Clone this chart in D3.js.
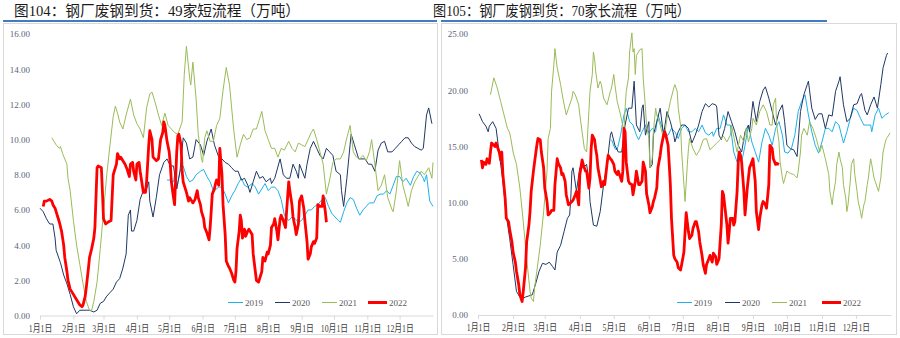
<!DOCTYPE html>
<html>
<head>
<meta charset="utf-8">
<script src="https://cdn.jsdelivr.net/npm/d3@7"></script>
<style>
  body { margin: 0; background: #fff; }
  svg { display: block; }
</style>
</head>
<body>
<svg id="chart" width="900" height="338"></svg>
<script>
// Month starts (day of year) and their labels
const monthDays = [0, 31, 59, 90, 120, 151, 181, 212, 243, 273, 304, 334];
const monthLabels = ["1月1日", "2月1日", "3月1日", "4月1日", "5月1日", "6月1日",
                     "7月1日", "8月1日", "9月1日", "10月1日", "11月1日", "12月1日"];
const yearNames = ["2019", "2020", "2021", "2022"];
const shortTicks = [0, 2, 4, 6, 8, 10, 12, 14, 16];
const longTicks = [0, 5, 10, 15, 20, 25];

// 49 short-process mills: [day of year, arrivals (10k t)]
const short2019 = [[118,7.7],[121,7.7],[124,7.6],[125,8.0],[127,7.2],[130,8.2],[133,8.5],[136,7.9],[139,7.6],[142,7.7],[145,8.0],[149,8.2],[152,8.3],[155,7.9],[158,7.6],[161,7.1],[162,7.1],[166,7.3],[169,7.3],[172,6.9],[175,6.4],[178,6.8],[181,7.1],[184,7.5],[187,7.8],[190,7.4],[193,7.3],[197,7.5],[200,7.3],[203,6.9],[206,7.2],[209,7.5],[212,7.1],[215,7.3],[218,7.3],[221,7.1],[224,6.6],[227,5.7],[231,5.4],[234,5.6],[237,5.5],[240,5.3],[243,5.4],[246,5.7],[249,6.0],[252,6.0],[255,6.2],[258,6.3],[262,6.6],[265,6.7],[268,6.2],[271,5.8],[274,5.6],[277,5.4],[279,5.3],[282,5.9],[285,6.4],[288,6.7],[291,6.6],[294,6.1],[297,5.7],[300,6.0],[303,6.2],[306,6.4],[310,6.4],[313,6.8],[316,6.9],[319,6.9],[322,7.1],[325,6.9],[328,7.4],[331,7.9],[334,7.9],[337,7.6],[340,7.8],[344,7.4],[347,7.9],[350,8.2],[353,8.1],[356,7.8],[357,7.6],[359,8.0],[362,6.5],[365,6.2]];
const short2020 = [[0,6.1],[3,5.9],[6,5.5],[9,5.2],[12,5.2],[14,4.4],[15,3.7],[19,3.0],[22,2.3],[25,1.8],[28,1.2],[31,0.5],[34,0.1],[37,0.3],[40,0.3],[43,0.3],[46,0.3],[50,0.2],[53,0.3],[56,0.7],[59,0.8],[62,1.1],[65,1.3],[68,1.5],[71,1.9],[74,2.1],[77,2.7],[80,3.5],[82,5.7],[84,6.0],[85,4.8],[87,4.8],[90,5.4],[93,6.6],[96,7.1],[99,7.2],[101,7.6],[102,6.5],[105,5.6],[108,6.7],[111,8.0],[115,8.7],[118,8.9],[121,8.5],[124,8.5],[127,7.2],[130,8.2],[133,10.1],[136,9.8],[139,8.9],[142,9.0],[145,10.0],[149,9.7],[152,9.1],[155,9.9],[159,10.6],[162,9.7],[166,9.0],[169,8.9],[172,8.7],[175,8.6],[178,8.4],[181,8.2],[184,8.2],[187,7.7],[190,7.8],[193,7.4],[195,7.0],[198,7.6],[201,8.2],[204,7.8],[207,7.9],[210,7.6],[214,7.8],[215,7.5],[218,7.8],[223,8.9],[226,8.0],[229,7.8],[232,7.8],[235,8.6],[238,8.2],[240,7.8],[241,8.6],[246,7.8],[248,8.6],[251,9.5],[254,9.9],[257,9.5],[260,9.1],[263,8.9],[266,9.5],[269,9.3],[272,9.1],[275,8.2],[279,8.0],[280,7.1],[282,6.2],[285,7.8],[288,9.7],[289,10.3],[292,9.7],[296,8.9],[299,8.9],[302,8.9],[305,8.6],[308,8.6],[311,8.2],[314,9.4],[317,9.8],[320,9.9],[323,9.3],[327,9.3],[330,9.5],[333,9.7],[336,9.9],[339,10.1],[342,10.1],[345,9.8],[348,9.6],[351,9.5],[354,9.4],[356,9.5],[359,11.4],[361,11.8],[364,10.9]];
const short2021 = [[11,10.1],[13,9.9],[15,9.7],[18,9.5],[19,9.6],[21,9.2],[23,8.9],[25,8.6],[26,7.8],[28,7.1],[31,5.4],[34,4.0],[37,2.9],[40,1.8],[43,0.8],[46,0.3],[48,0.3],[50,0.8],[53,1.9],[56,3.8],[59,5.9],[62,8.0],[65,9.7],[68,11.3],[70,11.9],[72,11.5],[74,11.0],[77,10.6],[80,11.4],[84,12.3],[87,11.4],[90,10.9],[93,10.6],[96,10.1],[99,11.8],[102,12.6],[104,12.7],[107,12.1],[110,11.4],[113,10.8],[116,11.5],[119,10.8],[122,10.6],[125,10.4],[128,10.3],[132,11.0],[134,13.7],[136,15.3],[139,13.5],[140,13.1],[142,14.4],[145,12.3],[147,10.3],[150,8.9],[151,8.7],[153,10.1],[155,10.5],[158,9.9],[161,9.9],[164,10.8],[167,11.2],[170,12.8],[173,14.1],[176,13.1],[180,10.5],[183,9.0],[186,9.7],[189,10.3],[192,10.0],[195,10.1],[198,10.6],[201,10.6],[204,11.2],[206,11.6],[209,10.5],[212,10.0],[215,9.5],[218,9.5],[221,9.0],[224,9.5],[227,9.4],[231,9.9],[234,9.5],[237,9.3],[240,9.8],[243,9.7],[246,9.6],[249,10.0],[252,10.4],[254,10.6],[257,10.0],[260,9.3],[263,8.6],[266,6.9],[269,7.7],[272,8.7],[275,8.9],[279,8.9],[282,9.3],[285,10.1],[288,10.8],[291,9.3],[294,9.0],[297,8.9],[300,9.1],[303,8.8],[306,9.3],[308,10.0],[311,8.6],[314,7.1],[317,7.4],[320,8.0],[323,6.7],[327,6.0],[328,5.9],[331,7.1],[334,8.8],[337,7.4],[340,6.7],[342,6.2],[345,7.1],[348,7.6],[351,7.9],[354,8.2],[357,8.0],[361,8.4],[364,7.8],[365,8.7]];
const short2022 = [[3,6.2],[4,6.5],[6,6.5],[9,6.6],[11,6.5],[12,6.3],[14,6.1],[16,5.7],[18,5.3],[20,4.8],[22,4.0],[23,3.3],[25,2.5],[26,2.0],[28,1.5],[31,1.2],[34,0.9],[37,0.6],[39,0.5],[40,0.6],[42,1.1],[43,1.6],[45,2.7],[46,3.3],[48,3.8],[50,4.4],[51,5.0],[53,8.4],[54,8.5],[57,8.4],[58,7.0],[59,5.5],[61,5.2],[63,5.3],[66,5.4],[68,8.0],[71,8.6],[72,9.2],[74,8.9],[75,9.0],[77,8.8],[79,8.6],[81,8.3],[83,7.9],[84,8.6],[86,8.7],[87,8.2],[89,7.7],[90,8.6],[92,8.7],[93,8.2],[94,7.8],[96,7.0],[98,7.0],[99,7.6],[101,9.7],[102,10.5],[104,10.0],[105,9.0],[108,8.8],[110,8.9],[112,10.0],[114,10.4],[115,11.0],[116,10.8],[118,9.9],[120,9.3],[121,8.6],[122,7.6],[124,6.7],[125,6.3],[127,9.3],[128,10.2],[129,10.3],[131,9.7],[132,8.2],[133,7.6],[135,7.2],[136,7.0],[138,6.5],[139,6.7],[141,6.5],[142,6.4],[144,6.6],[146,7.1],[147,6.7],[149,6.3],[150,5.9],[152,5.5],[153,5.0],[155,4.7],[157,4.3],[158,5.0],[159,5.9],[160,6.9],[162,7.2],[163,7.5],[164,7.7],[166,7.4],[167,9.5],[169,8.0],[170,6.3],[172,4.6],[173,3.1],[175,2.8],[176,2.7],[178,2.4],[180,2.0],[181,1.9],[182,2.5],[183,3.8],[185,4.8],[186,5.7],[187,5.4],[188,4.4],[190,4.9],[191,4.5],[193,4.8],[194,4.9],[195,4.8],[197,4.6],[198,3.5],[200,2.5],[201,2.0],[203,1.9],[204,2.1],[206,2.5],[207,3.3],[209,3.1],[211,3.6],[212,3.5],[214,4.0],[215,5.0],[217,5.2],[218,5.5],[220,4.8],[221,4.3],[223,5.5],[224,5.7],[226,5.4],[228,5.0],[229,5.9],[231,7.6],[232,7.1],[234,6.3],[235,5.6],[237,5.0],[238,4.6],[240,5.2],[241,6.5],[243,6.8],[245,6.1],[246,5.4],[248,4.2],[249,3.2],[251,3.5],[252,3.9],[254,4.2],[255,4.1],[257,4.4],[258,6.3],[260,6.2],[262,6.2],[263,6.8],[265,5.9],[266,5.3]];

// 70 long-process mills: [day of year, arrivals (10k t)]
const long2019 = [[118,15.6],[121,14.8],[123,14.7],[126,16.0],[129,17.8],[131,18.4],[134,17.2],[137,16.9],[140,16.0],[142,15.6],[145,16.3],[148,16.9],[151,16.2],[154,16.6],[157,16.3],[159,17.8],[162,16.9],[165,16.0],[168,16.0],[171,16.6],[174,16.3],[177,15.7],[180,16.6],[183,16.9],[186,16.3],[189,16.3],[192,16.6],[195,16.3],[198,16.9],[201,16.2],[204,16.0],[207,16.3],[208,15.9],[211,16.6],[214,16.6],[217,17.8],[220,16.9],[223,16.9],[226,14.5],[229,13.6],[230,14.5],[233,13.6],[236,15.1],[239,16.9],[242,15.4],[245,14.5],[248,13.6],[251,15.4],[254,16.6],[257,16.0],[260,15.1],[263,16.6],[266,17.2],[269,16.0],[271,14.5],[274,14.4],[277,14.8],[280,16.0],[283,18.1],[286,19.0],[289,19.6],[292,17.8],[295,16.3],[298,15.1],[301,14.4],[304,15.4],[307,16.6],[310,16.6],[313,16.3],[316,17.2],[319,16.9],[322,15.7],[323,15.3],[326,16.3],[329,17.5],[332,18.4],[335,18.2],[338,17.5],[341,16.9],[344,16.9],[347,16.9],[348,16.3],[351,17.8],[354,18.4],[357,17.5],[360,17.8],[363,18.0]];
const long2020 = [[1,17.9],[4,17.2],[7,16.8],[9,16.3],[10,16.8],[13,17.2],[16,16.6],[19,14.2],[22,11.9],[25,8.9],[28,6.8],[31,4.5],[34,2.1],[37,1.6],[40,1.5],[42,1.6],[45,1.7],[48,1.8],[51,2.8],[54,3.9],[57,4.6],[60,4.5],[63,4.7],[66,4.3],[68,4.0],[70,5.6],[73,6.2],[76,7.4],[79,8.6],[81,8.9],[82,10.4],[83,12.8],[84,13.1],[87,11.0],[90,13.1],[93,13.1],[96,13.4],[98,11.9],[99,10.1],[102,8.0],[105,7.9],[108,9.2],[111,11.6],[114,13.4],[117,16.0],[118,16.3],[121,15.1],[124,14.5],[127,14.5],[130,16.9],[133,18.4],[136,18.4],[138,20.8],[140,16.9],[143,16.3],[145,18.4],[146,18.7],[148,16.0],[151,17.2],[152,13.1],[154,13.4],[155,16.0],[158,17.2],[161,18.4],[164,16.0],[167,18.1],[170,17.2],[173,16.0],[174,15.4],[177,16.3],[180,16.9],[183,16.9],[186,16.6],[189,15.3],[192,16.0],[195,16.9],[198,18.1],[201,18.8],[204,18.5],[207,18.8],[210,18.7],[211,18.5],[213,16.0],[215,15.6],[218,16.6],[221,18.1],[224,17.2],[227,16.3],[230,15.1],[233,14.5],[236,16.3],[239,16.9],[240,16.3],[243,19.0],[246,17.2],[249,19.0],[252,20.0],[254,20.3],[257,19.3],[260,18.1],[263,16.9],[266,18.1],[269,18.7],[271,17.2],[273,15.1],[276,14.8],[279,14.7],[282,14.1],[285,18.1],[288,19.6],[291,20.5],[292,20.8],[295,18.4],[298,17.4],[301,17.9],[304,17.9],[307,16.6],[310,17.8],[313,17.7],[316,19.9],[319,20.8],[320,21.2],[323,18.7],[326,17.2],[329,17.5],[332,18.7],[335,18.8],[338,19.6],[339,19.7],[342,18.2],[344,17.8],[347,18.7],[350,19.4],[353,18.4],[356,20.5],[358,22.0],[361,23.1],[362,23.3]];
const long2021 = [[11,19.6],[14,21.1],[17,20.2],[20,19.0],[23,17.8],[26,16.6],[28,16.2],[29,15.7],[31,14.5],[34,13.4],[37,11.3],[40,8.3],[43,5.0],[46,2.1],[47,1.5],[49,1.2],[50,2.4],[52,3.9],[55,6.2],[58,9.2],[61,12.8],[62,15.7],[64,16.6],[65,19.9],[67,22.2],[68,23.7],[69,22.8],[70,22.0],[73,20.5],[75,19.3],[78,17.8],[80,18.4],[83,19.3],[84,19.9],[86,19.6],[89,18.7],[90,17.8],[92,16.3],[94,14.8],[96,14.5],[98,18.1],[99,19.9],[101,21.4],[102,23.4],[103,22.8],[104,21.7],[106,20.2],[108,20.8],[109,20.5],[111,19.3],[114,18.7],[117,19.9],[118,20.2],[120,21.4],[121,20.5],[123,19.0],[126,17.8],[129,16.3],[130,18.4],[131,19.9],[133,21.1],[134,23.4],[136,25.1],[137,23.4],[138,23.7],[139,21.4],[140,23.1],[143,23.6],[145,23.7],[146,21.1],[148,18.4],[149,16.9],[151,15.7],[152,13.1],[154,13.9],[155,16.3],[157,18.4],[158,17.8],[161,16.9],[164,15.7],[165,16.0],[167,17.5],[170,19.0],[173,20.2],[174,20.5],[176,19.9],[177,18.4],[179,16.9],[180,14.5],[182,11.6],[183,10.1],[185,13.4],[186,14.8],[187,15.7],[190,14.8],[193,14.2],[196,14.7],[199,15.6],[202,15.7],[205,14.7],[208,15.0],[211,15.3],[214,15.6],[217,15.9],[220,15.4],[223,16.0],[224,16.9],[227,15.4],[229,14.5],[232,16.0],[235,15.4],[237,16.6],[239,15.4],[242,16.6],[243,17.5],[246,16.9],[249,18.1],[252,18.7],[255,18.1],[258,16.9],[260,16.9],[261,18.7],[263,19.3],[264,16.9],[266,15.4],[267,13.6],[269,12.2],[270,11.7],[273,12.8],[276,12.6],[279,12.5],[282,12.2],[283,12.8],[285,14.5],[286,16.0],[288,16.6],[291,16.0],[293,17.2],[296,16.6],[299,15.7],[302,14.5],[304,15.1],[307,13.9],[310,12.5],[311,11.0],[313,9.8],[314,10.7],[316,11.9],[317,13.4],[319,14.5],[320,13.9],[322,13.1],[323,11.6],[325,10.4],[326,9.2],[327,9.8],[329,11.9],[330,13.4],[332,13.9],[333,12.5],[335,11.0],[336,10.1],[338,9.2],[339,8.6],[341,9.8],[342,10.1],[344,11.6],[345,12.2],[347,13.9],[348,13.4],[350,12.2],[351,11.9],[353,11.3],[354,11.0],[356,12.2],[357,13.4],[358,14.5],[360,15.4],[361,15.7],[363,16.0],[364,16.2]];
const long2022 = [[3,13.8],[4,13.1],[5,13.6],[7,13.4],[8,13.9],[10,13.5],[11,14.5],[12,15.3],[14,15.1],[15,15.0],[16,15.3],[18,14.7],[19,14.4],[20,13.8],[21,14.5],[22,12.5],[24,10.4],[25,8.6],[27,8.3],[28,7.6],[30,6.5],[31,5.6],[33,4.7],[34,3.9],[36,2.7],[37,1.8],[39,1.2],[40,2.1],[42,4.2],[43,6.5],[45,8.0],[46,9.2],[47,11.0],[49,12.8],[50,13.6],[52,15.1],[53,15.7],[55,15.6],[56,14.5],[58,13.1],[59,11.3],[61,10.1],[62,8.9],[64,9.1],[65,9.3],[67,9.3],[68,11.6],[70,13.9],[71,13.5],[73,13.1],[74,12.5],[75,12.6],[77,11.9],[78,10.7],[80,9.8],[81,9.9],[83,10.1],[84,10.2],[86,10.7],[87,11.0],[89,9.8],[90,12.5],[92,13.8],[93,13.4],[95,12.8],[96,12.8],[98,11.3],[99,12.2],[100,14.8],[101,16.0],[103,15.6],[104,14.8],[105,14.2],[106,13.1],[108,12.0],[109,11.4],[111,11.9],[112,11.6],[114,13.4],[115,14.2],[117,13.9],[118,13.8],[120,13.4],[121,12.8],[123,12.5],[124,12.8],[126,12.2],[127,11.9],[128,12.8],[129,16.6],[130,16.3],[131,13.6],[133,11.9],[134,11.7],[136,11.6],[137,10.7],[139,11.9],[140,12.8],[142,11.6],[143,11.6],[145,11.9],[146,13.6],[148,12.8],[149,10.8],[151,9.8],[152,9.1],[154,9.6],[155,10.1],[156,10.4],[158,11.3],[159,13.1],[161,14.2],[162,15.0],[164,16.0],[165,16.3],[166,16.0],[168,15.1],[169,13.4],[170,11.6],[171,8.6],[173,5.3],[174,5.0],[176,4.7],[177,4.2],[179,4.0],[180,4.5],[182,5.6],[183,7.4],[184,9.1],[186,7.4],[187,6.8],[189,7.1],[190,7.7],[192,8.3],[193,8.3],[195,7.4],[196,6.5],[198,5.3],[199,4.5],[201,3.7],[202,4.5],[204,5.0],[205,5.3],[207,4.7],[208,5.5],[210,5.2],[211,4.5],[213,5.0],[214,6.5],[215,8.0],[216,11.0],[217,10.7],[218,9.8],[220,8.0],[221,6.4],[222,7.4],[223,8.6],[225,8.6],[226,8.0],[227,8.3],[229,11.0],[230,13.6],[231,14.5],[232,14.2],[233,13.6],[235,11.0],[236,8.9],[238,11.3],[239,12.2],[240,13.1],[242,13.6],[243,13.9],[245,11.9],[246,9.2],[248,7.6],[249,8.6],[251,9.8],[252,10.1],[254,9.8],[255,9.5],[257,11.6],[258,15.1],[260,14.8],[261,13.9],[263,13.4],[264,13.5],[266,13.4]];

// Line styling per year
const yearStyle = {
  "2019": { color: "#1FB0EA", width: 1 },
  "2020": { color: "#1F3864", width: 1 },
  "2021": { color: "#9BBB59", width: 1 },
  "2022": { color: "#FF0000", width: 2.8 }
};

const svg = d3.select("#chart");
const NUM_FONT = "'Liberation Serif', 'Noto Sans CJK SC', serif";

function squeeze(sel, factor) {
  sel.each(function () {
    const w = this.getComputedTextLength();
    d3.select(this).attr("textLength", w * factor).attr("lengthAdjust", "spacingAndGlyphs");
  });
}

function drawPanel(p) {
  const g = svg.append("g");

  // outer frame
  g.append("rect")
    .attr("x", p.frame[0]).attr("y", 23.5)
    .attr("width", p.frame[1] - p.frame[0]).attr("height", 311)
    .attr("fill", "none").attr("stroke", "#d9d9d9").attr("stroke-width", 1);

  // title and blue rule
  g.append("text")
    .attr("x", p.titleX).attr("y", 16)
    .attr("font-family", NUM_FONT).attr("font-size", 15)
    .attr("fill", "#1a1a1a")
    .attr("textLength", p.titleW).attr("lengthAdjust", "spacingAndGlyphs")
    .text(p.title);
  g.append("line")
    .attr("x1", p.rule[0]).attr("x2", p.rule[1])
    .attr("y1", 21).attr("y2", 21)
    .attr("stroke", "#3F7CC4").attr("stroke-width", 2);

  const x = d3.scaleLinear().domain([0, 365]).range([p.x0, p.x1]);
  const y = d3.scaleLinear().domain([0, p.yMax]).range([p.yBase, p.yTop]);

  // value axis (labels only)
  const yAxis = g.append("g")
    .attr("transform", `translate(${p.labelRight},0)`)
    .call(d3.axisLeft(y).tickValues(p.yTicks).tickFormat(d3.format(".2f")).tickSize(0).tickPadding(0));
  yAxis.select(".domain").remove();
  yAxis.selectAll("text")
    .attr("font-family", NUM_FONT).attr("font-size", 9)
    .attr("fill", "#5A6478");

  // date axis
  const xAxis = g.append("g")
    .attr("transform", `translate(0,${p.yBase})`)
    .call(d3.axisBottom(x).tickValues(monthDays)
      .tickFormat((d, i) => monthLabels[i]).tickSize(4).tickSizeOuter(0).tickPadding(5));
  xAxis.select(".domain").attr("stroke", "#d9d9d9");
  xAxis.selectAll(".tick line").attr("stroke", "#d9d9d9");
  xAxis.selectAll("text")
    .attr("font-family", NUM_FONT).attr("font-size", 10)
    .attr("fill", "#404040")
    .call(squeeze, 0.78);

  // series
  const line = d3.line().x(d => x(d[0])).y(d => y(d[1]));
  p.series.forEach((data, i) => {
    const st = yearStyle[yearNames[i]];
    g.append("path")
      .datum(data)
      .attr("d", line)
      .attr("fill", "none")
      .attr("stroke", st.color)
      .attr("stroke-width", st.width)
      .attr("stroke-linejoin", "round");
  });

  // legend
  yearNames.forEach((name, i) => {
    const st = yearStyle[name];
    const lx = p.legendX[i];
    const len = name === "2022" ? 19 : 15;
    g.append("line")
      .attr("x1", lx).attr("x2", lx + len)
      .attr("y1", 302.5).attr("y2", 302.5)
      .attr("stroke", st.color)
      .attr("stroke-width", name === "2022" ? 3 : 1);
    g.append("text")
      .attr("x", lx + len + 2).attr("y", 305.5)
      .attr("font-family", NUM_FONT).attr("font-size", 9)
      .attr("fill", "#595959")
      .text(name);
  });
}

drawPanel({
  title: "图104：钢厂废钢到货：49家短流程（万吨）",
  titleX: 14, titleW: 286,
  rule: [3, 437], frame: [3.5, 437.5],
  x0: 40, x1: 433, yMax: 16, yBase: 315.5, yTop: 34,
  yTicks: shortTicks, labelRight: 30,
  series: [short2019, short2020, short2021, short2022],
  legendX: [228, 275, 322, 368]
});

drawPanel({
  title: "图105：钢厂废钢到货：70家长流程（万吨）",
  titleX: 433, titleW: 257,
  rule: [441, 827], frame: [441.5, 896.5],
  x0: 478, x1: 891, yMax: 25, yBase: 315, yTop: 34,
  yTicks: longTicks, labelRight: 468,
  series: [long2019, long2020, long2021, long2022],
  legendX: [677, 725, 772, 822]
});
</script>
</body>
</html>
